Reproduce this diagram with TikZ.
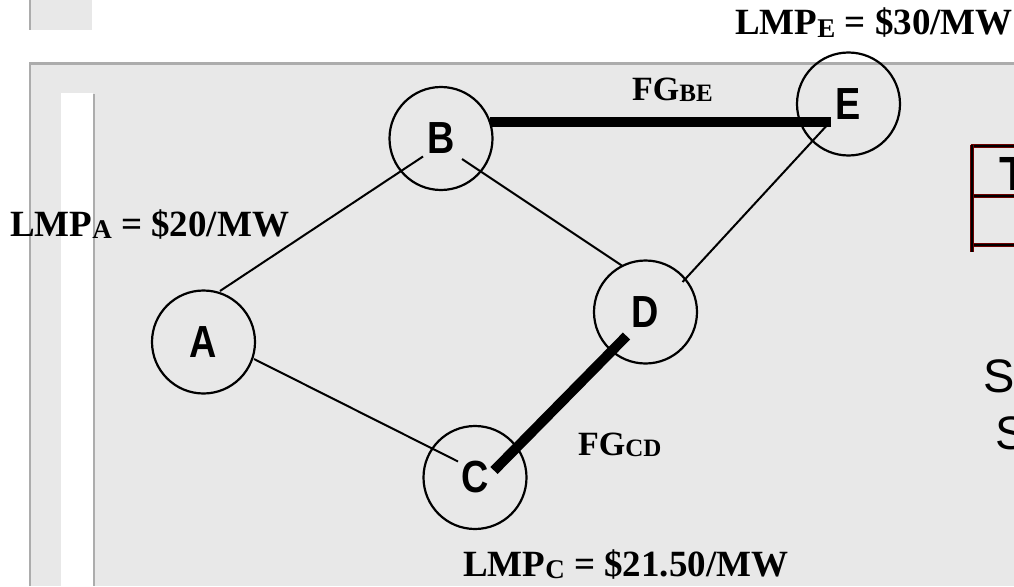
\documentclass[tikz,border=0pt]{standalone}
\usepackage{fontspec}
\setmainfont{Liberation Serif}
\newfontfamily\nodefont{Liberation Sans}[FakeStretch=0.84]
\newfontfamily\arialfont{Liberation Sans}
\usetikzlibrary{calc}
\definecolor{panel}{RGB}{232,232,232}
\definecolor{edgegray}{RGB}{172,172,172}
\definecolor{tabred}{RGB}{110,0,0}
\newcommand{\lsub}[1]{\raisebox{-2pt}{\fontsize{27}{27}\selectfont #1}}
\newcommand{\fsub}[1]{\raisebox{-1.5pt}{\fontsize{25}{25}\selectfont #1}}
\begin{document}
\begin{tikzpicture}[x=1pt,y=-1pt,
  bus/.style={circle,draw,line width=2.2pt,minimum size=103pt,inner sep=0pt,
    font=\nodefont\bfseries\fontsize{45}{45}\selectfont},
  thinline/.style={line width=2pt},
  thickline/.style={line width=10pt},
  lmp/.style={anchor=base west,inner sep=0pt,font=\bfseries\fontsize{37}{40}\selectfont},
  fg/.style={anchor=base west,inner sep=0pt,font=\bfseries\fontsize{34}{40}\selectfont},
  tabline/.style={draw=tabred,line width=3.5pt},
  tabcore/.style={draw=black,line width=1.8pt},
  panelborder/.style={draw=edgegray,line width=2.5pt}]
\clip (0,0) rectangle (1014,586);
\fill[white] (0,0) rectangle (1014,586);
% top-left small panel
\fill[panel] (30,0) rectangle (92,30);
\draw[panelborder] (30.2,0) -- (30.2,30);
% main panel
\fill[panel] (30,63) rectangle (1014,586);
\draw[panelborder] (30.2,586) -- (30.2,63.5) -- (1014,63.5);
\fill[white] (61,93) rectangle (93,586);
\draw[panelborder] (94,94) -- (94,586);
% table on the right
\foreach \yy in {146,196,245} {
  \draw[tabline] (970.5,\yy) -- (1014,\yy);
  \draw[tabcore] (970.5,\yy) -- (1014,\yy);
}
\draw[tabline] (972,144.5) -- (972,252);
\draw[tabcore] (972,144.5) -- (972,252);
\node[anchor=base west,inner sep=0pt,font=\arialfont\bfseries\fontsize{48}{48}\selectfont] (t) at (999,190) {T};
\node[anchor=base west,inner sep=0pt,font=\arialfont\fontsize{47}{47}\selectfont] (s1) at (983,392) {S};
\node[anchor=base west,inner sep=0pt,font=\arialfont\fontsize{47}{47}\selectfont] (s2) at (995,449) {S};
% buses
\node[bus] (A) at (203.5,342) {A};
\node[bus] (B) at (441,138.5) {B};
\node[bus] (C) at (475,477.5) {C};
\node[bus] (D) at (645.5,312) {D};
\node[bus] (E) at (848.5,104) {E};
% thin lines
\draw[thinline] ($(A)+(16.5,-51)$) -- ($(B)+(-18,18)$);
\draw[thinline] ($(A)+(50.5,17)$) -- ($(C)+(-17,-16)$);
\draw[thinline] ($(B)+(21,20.5)$) -- ($(D)+(-23,-46)$);
\draw[thinline] ($(E)+(-18.5,18)$) -- ($(D)+(37,-30)$);
% congested lines
\draw[thickline] ($(B)+(49,-16.5)$) -- ($(E)+(-17.5,18)$);
\draw[thickline] ($(C)+(19,-7)$) -- ($(D)+(-19,24)$);
% labels
\node[lmp] (lmpE) at (735,35) {LMP\lsub{E} = \$30/MW};
\node[lmp] (lmpA) at (10,236) {LMP\lsub{A} = \$20/MW};
\node[lmp] (lmpC) at (463,576) {LMP\lsub{C} = \$21.50/MW};
\node[fg] (fgBE) at (632,100) {FG\fsub{BE}};
\node[fg] (fgCD) at (578,455) {FG\fsub{CD}};
\end{tikzpicture}
\end{document}
